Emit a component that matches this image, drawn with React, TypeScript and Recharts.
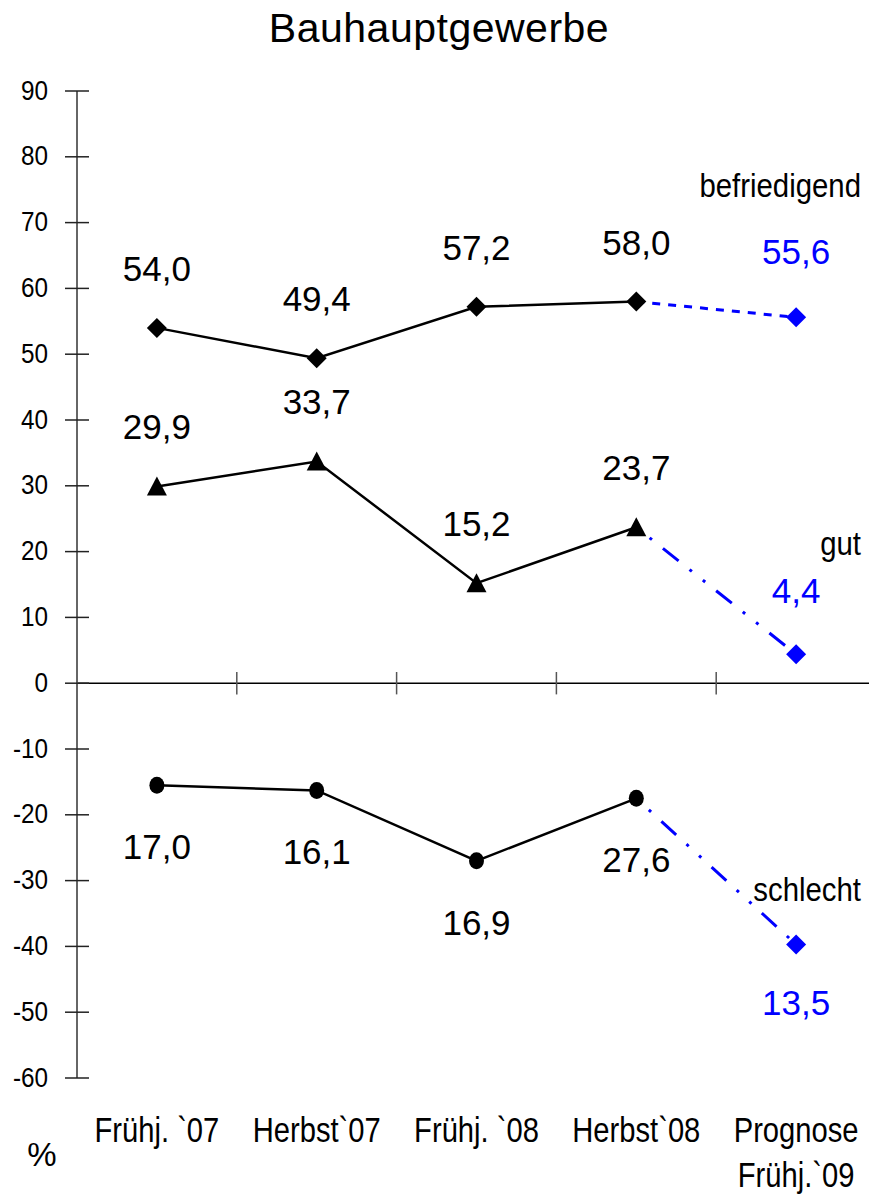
import { LineChart, Line, XAxis, YAxis, ReferenceLine, LabelList } from 'recharts'

const categories = ['Frühj. `07', 'Herbst`07', 'Frühj. `08', 'Herbst`08', 'Prognose\nFrühj.`09']
const befriedigend = [54.0, 49.4, 57.2, 58.0, 55.6]
const gut = [29.9, 33.7, 15.2, 23.7, 4.4]
const schlecht = [-15.5, -16.3, -27.0, -17.5, -39.7]
const schlechtLabels = ['17,0', '16,1', '16,9', '27,6', '13,5']
const yTicks = [-60, -50, -40, -30, -20, -10, 0, 10, 20, 30, 40, 50, 60, 70, 80, 90]

const LAST_ACTUAL = 3
const FONT = '"Liberation Sans", Arial, sans-serif'
const BLUE = '#0000ff'

// numeric x so the zero line can carry ticks between categories
const positions = categories.map((_, i) => i + 0.5)
const boundaries = categories.slice(1).map((_, i) => i + 1)

const data = positions.map((x, i) => ({
  x,
  befIst: i <= LAST_ACTUAL ? befriedigend[i] : null,
  befProg: i >= LAST_ACTUAL ? befriedigend[i] : null,
  gutIst: i <= LAST_ACTUAL ? gut[i] : null,
  gutProg: i >= LAST_ACTUAL ? gut[i] : null,
  schIst: i <= LAST_ACTUAL ? schlecht[i] : null,
  schProg: i >= LAST_ACTUAL ? schlecht[i] : null,
}))

const fmt = (v: number) => v.toFixed(1).replace('.', ',')

// text squeezed horizontally, the original uses a narrow face
const SText = ({ x, y, size, sx = 1, anchor = 'middle', fill = '#000', spacing, children }: any) => (
  <text
    transform={`translate(${x},${y}) scale(${sx},1)`}
    textAnchor={anchor}
    fontSize={size}
    fontFamily={FONT}
    fill={fill}
    letterSpacing={spacing}
  >
    {children}
  </text>
)

const diamond = (color: string) => (p: any) => {
  const { cx, cy, index } = p
  if (cx == null || cy == null || (color === BLUE && index === LAST_ACTUAL)) return <g key={`d-${color}-${index}`} />
  return (
    <polygon key={`d-${color}-${index}`} points={`${cx},${cy - 10} ${cx + 10},${cy} ${cx},${cy + 10} ${cx - 10},${cy}`} fill={color} />
  )
}

const triangle = (p: any) => {
  const { cx, cy, index } = p
  if (cx == null || cy == null) return <g key={`t-${index}`} />
  return <polygon key={`t-${index}`} points={`${cx},${cy - 10} ${cx + 10},${cy + 9} ${cx - 10},${cy + 9}`} fill="#000" />
}

const circle = (p: any) => {
  const { cx, cy, index } = p
  if (cx == null || cy == null) return <g key={`c-${index}`} />
  return <ellipse key={`c-${index}`} cx={cx} cy={cy} rx={7.5} ry={8.5} fill="#000" />
}

const valueLabel = (color: string, offset: number, only: (i: number) => boolean, texts?: string[]) => (p: any) => {
  const { x, y, value, index } = p
  if (value == null || !only(index)) return <g key={`l-${index}`} />
  return (
    <text key={`l-${index}`} x={x} y={y + offset} textAnchor="middle" fontSize={35} fontFamily={FONT} fill={color}>
      {texts ? texts[index] : fmt(value)}
    </text>
  )
}

const YTick = (props: any) => {
  const { x, y, payload } = props
  return (
    <g>
      <line x1={x - 12} x2={x + 12} y1={y} y2={y} stroke="#222" strokeWidth={1.5} />
      <SText x={x - 29} y={y + 8.5} size={27} sx={0.9} anchor="end">
        {payload.value}
      </SText>
    </g>
  )
}

const XTick = (props: any) => {
  const { x, y, payload } = props
  const lines = categories[Math.floor(payload.value)].split('\n')
  return (
    <g>
      {lines.map((t, i) => (
        <SText key={i} x={x} y={y + 64 + i * 45} size={36} sx={0.81}>
          {t}
        </SText>
      ))}
    </g>
  )
}

const isActual = (i: number) => i <= LAST_ACTUAL
const isProg = (i: number) => i > LAST_ACTUAL

export default function App() {
  return (
    <div style={{ position: 'absolute', left: 0, top: 0, width: 869, height: 1199, overflow: 'hidden', background: '#fff' }}>
      <LineChart width={876} height={1199} data={data} margin={{ top: 91, right: 0, left: 0, bottom: 0 }}>
        <XAxis
          dataKey="x"
          type="number"
          domain={[0, categories.length]}
          ticks={positions}
          axisLine={false}
          tickLine={false}
          tickSize={0}
          tickMargin={0}
          height={121}
          tick={<XTick />}
          interval={0}
        />
        <YAxis
          domain={[-60, 90]}
          ticks={yTicks}
          width={77}
          axisLine={{ stroke: '#666', strokeWidth: 2 }}
          tickLine={false}
          tickSize={0}
          tickMargin={0}
          tick={<YTick />}
          interval={0}
        />
        <ReferenceLine y={0} stroke="#000" strokeWidth={1.5} />
        {boundaries.map(b => (
          <ReferenceLine key={b} segment={[{ x: b, y: 1.7 }, { x: b, y: -1.7 }]} stroke="#555" strokeWidth={1.5} />
        ))}

        <Line dataKey="befIst" stroke="#000" strokeWidth={2.5} dot={diamond('#000')} isAnimationActive={false}>
          <LabelList dataKey="befIst" content={valueLabel('#000', -47, isActual)} />
        </Line>
        <Line dataKey="befProg" stroke={BLUE} strokeWidth={3} strokeDasharray="8 8" dot={diamond(BLUE)} isAnimationActive={false}>
          <LabelList dataKey="befProg" content={valueLabel(BLUE, -53, isProg)} />
        </Line>

        <Line dataKey="gutIst" stroke="#000" strokeWidth={2.5} dot={triangle} isAnimationActive={false}>
          <LabelList dataKey="gutIst" content={valueLabel('#000', -47, isActual)} />
        </Line>
        <Line dataKey="gutProg" stroke={BLUE} strokeWidth={3} strokeDasharray="3 14 3 14 20 14" dot={diamond(BLUE)} isAnimationActive={false}>
          <LabelList dataKey="gutProg" content={valueLabel(BLUE, -51, isProg)} />
        </Line>

        <Line dataKey="schIst" stroke="#000" strokeWidth={2.5} dot={circle} isAnimationActive={false}>
          <LabelList dataKey="schIst" content={valueLabel('#000', 74, isActual, schlechtLabels)} />
        </Line>
        <Line dataKey="schProg" stroke={BLUE} strokeWidth={3} strokeDasharray="3 14 3 14 20 14" dot={diamond(BLUE)} isAnimationActive={false}>
          <LabelList dataKey="schProg" content={valueLabel(BLUE, 71, isProg, schlechtLabels)} />
        </Line>
      </LineChart>

      <svg width={869} height={1199} style={{ position: 'absolute', left: 0, top: 0, pointerEvents: 'none' }}>
        <SText x={439} y={42} size={41} spacing={0.5}>Bauhauptgewerbe</SText>
        <SText x={861} y={197} size={33} sx={0.89} anchor="end">befriedigend</SText>
        <SText x={861} y={555} size={33} sx={0.89} anchor="end">gut</SText>
        <SText x={861} y={901} size={33} sx={0.89} anchor="end">schlecht</SText>
        <SText x={42} y={1166} size={33}>%</SText>
      </svg>
    </div>
  )
}
